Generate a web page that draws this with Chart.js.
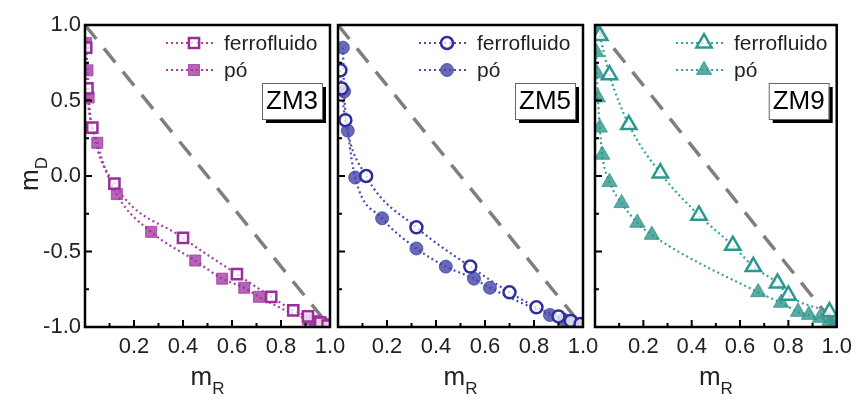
<!DOCTYPE html>
<html>
<head>
<meta charset="utf-8">
<script src="https://cdn.jsdelivr.net/npm/chart.js@4.4.0/dist/chart.umd.min.js"></script>
<style>
  html, body { margin: 0; padding: 0; background: #fff; }
  #wrap { position: relative; width: 859px; height: 400px; }
  #wrap canvas { position: absolute; left: 0; top: 0; }
</style>
</head>
<body>
<div id="wrap">
  <canvas id="c1" width="859" height="400"></canvas>
  <canvas id="c2" width="859" height="400"></canvas>
  <canvas id="c3" width="859" height="400"></canvas>
</div>
<script>
// values
const zm3FerroX = [0.005, 0.01, 0.03, 0.12, 0.40, 0.62, 0.76, 0.85, 0.91, 0.96, 0.99];
const zm3FerroY = [0.85, 0.58, 0.32, -0.05, -0.41, -0.65, -0.80, -0.89, -0.93, -0.97, -0.99];
const zm3PoX = [0.004, 0.01, 0.015, 0.05, 0.13, 0.27, 0.45, 0.56, 0.65, 0.71, 0.91, 0.94, 0.96, 0.98, 0.995];
const zm3PoY = [0.88, 0.70, 0.52, 0.22, -0.12, -0.37, -0.56, -0.68, -0.74, -0.80, -0.95, -0.96, -0.97, -0.98, -0.99];

const zm5FerroX = [0.01, 0.015, 0.03, 0.115, 0.32, 0.54, 0.70, 0.81, 0.90, 0.95, 0.99];
const zm5FerroY = [0.70, 0.58, 0.37, 0.0, -0.34, -0.60, -0.77, -0.87, -0.93, -0.96, -0.98];
const zm5PoX = [0.02, 0.025, 0.04, 0.07, 0.18, 0.32, 0.44, 0.555, 0.62, 0.865, 0.92, 0.96, 0.99];
const zm5PoY = [0.85, 0.56, 0.30, -0.01, -0.28, -0.48, -0.60, -0.68, -0.74, -0.92, -0.95, -0.97, -0.99];

const zm9FerroX = [0.02, 0.06, 0.14, 0.27, 0.43, 0.57, 0.655, 0.755, 0.80, 0.97];
const zm9FerroY = [0.93, 0.67, 0.34, 0.02, -0.26, -0.46, -0.60, -0.71, -0.79, -0.90];
const zm9PoX = [0.005, 0.008, 0.012, 0.02, 0.03, 0.06, 0.11, 0.175, 0.235, 0.675, 0.77, 0.84, 0.885, 0.93, 0.97, 0.99];
const zm9PoY = [0.82, 0.68, 0.52, 0.32, 0.14, -0.04, -0.18, -0.31, -0.39, -0.77, -0.84, -0.90, -0.92, -0.94, -0.96, -0.97];

const diagX = [0, 1];
const diagY = [1, -1];

const seriesNames = ['ferrofluido', 'pó'];
const panelNames = ['ZM3', 'ZM5', 'ZM9'];
const xLabelTicks = [0.2, 0.4, 0.6, 0.8, 1.0];
const yLabelTicks = [-1.0, -0.5, 0.0, 0.5, 1.0];

const FONT = '"Liberation Sans", Arial, sans-serif';

function pts(xs, ys) {
    return xs.map((x, i) => ({ x: x, y: ys[i] }));
}

const panels = [
    { id: 'c1', name: panelNames[0], left: 85, right: 330, showY: true,
      ferro: pts(zm3FerroX, zm3FerroY), po: pts(zm3PoX, zm3PoY),
      line: '#a43ea4', stroke: '#98309a', fill: 'rgba(158,48,158,0.75)', style: 'rect', rOpen: 7.2, rFill: 7.8 },
    { id: 'c2', name: panelNames[1], left: 338, right: 583, showY: false,
      ferro: pts(zm5FerroX, zm5FerroY), po: pts(zm5PoX, zm5PoY),
      line: '#4a4ab0', stroke: '#2e2e9c', fill: 'rgba(68,68,168,0.8)', style: 'circle', rOpen: 6, rFill: 6.5 },
    { id: 'c3', name: panelNames[2], left: 595, right: 840, showY: false,
      ferro: pts(zm9FerroX, zm9FerroY), po: pts(zm9PoX, zm9PoY),
      line: '#36a39b', stroke: '#2c9990', fill: 'rgba(48,150,140,0.8)', style: 'triangle', rOpen: 8.8, rFill: 8.8 }
];

// frame, inward ticks, legend, label box and axis titles
const decorPlugin = {
    id: 'decor',
    afterDraw(chart) {
        const p = chart.options.plugins.decor;
        const ctx = chart.ctx;
        const a = chart.chartArea;
        const xs = chart.scales.x, ys = chart.scales.y;
        ctx.save();

        // ticks pointing inward
        ctx.strokeStyle = '#000';
        ctx.lineWidth = 2;
        ctx.beginPath();
        for (let i = 1; i < 10; i++) {
            const px = xs.getPixelForValue(i / 10);
            const len = i % 2 === 0 ? 7 : 4;
            ctx.moveTo(px, a.bottom);
            ctx.lineTo(px, a.bottom - len);
        }
        for (let i = -3; i <= 3; i++) {
            const py = ys.getPixelForValue(i / 4);
            const len = i % 2 === 0 ? 7 : 4;
            ctx.moveTo(a.left, py);
            ctx.lineTo(a.left + len, py);
        }
        ctx.stroke();

        // frame
        ctx.lineWidth = 2.5;
        ctx.strokeRect(a.left, a.top, a.right - a.left, a.bottom - a.top);

        // legend
        const tx = a.left + 139;
        const rows = [a.top + 18, a.top + 45];
        ctx.font = '21px ' + FONT;
        ctx.textBaseline = 'middle';
        ctx.textAlign = 'left';
        rows.forEach((ry, k) => {
            const ds = chart.data.datasets[k];
            ctx.strokeStyle = ds.borderColor;
            ctx.lineWidth = 2.2;
            ctx.setLineDash([2, 3]);
            ctx.beginPath();
            ctx.moveTo(tx - 58, ry);
            ctx.lineTo(tx - 8, ry);
            ctx.stroke();
            ctx.setLineDash([]);
            ctx.fillStyle = ds.pointBackgroundColor;
            ctx.strokeStyle = ds.pointBorderColor;
            ctx.lineWidth = ds.pointBorderWidth;
            Chart.helpers.drawPoint(ctx, {
                pointStyle: ds.pointStyle, radius: ds.pointRadius,
                borderWidth: ds.pointBorderWidth, rotation: 0
            }, tx - 30, ry);
            ctx.fillStyle = '#222';
            ctx.fillText(ds.label, tx, ry + 1);
        });

        // ZM box with shadow
        const bw = 60, bh = 36;
        const bx = a.right - 68, by = a.top + 58;
        ctx.fillStyle = '#000';
        ctx.fillRect(bx + 4, by + 4, bw, bh);
        ctx.fillStyle = '#fff';
        ctx.fillRect(bx, by, bw, bh);
        ctx.strokeStyle = '#666';
        ctx.lineWidth = 1;
        ctx.strokeRect(bx + 0.5, by + 0.5, bw, bh);
        ctx.fillStyle = '#000';
        ctx.font = '26px ' + FONT;
        ctx.textAlign = 'center';
        ctx.fillText(p.name, bx + bw / 2, by + bh / 2 + 1);

        // x title m_R
        ctx.textBaseline = 'alphabetic';
        ctx.textAlign = 'left';
        ctx.fillStyle = '#222';
        ctx.font = '26px ' + FONT;
        const mw = ctx.measureText('m').width;
        ctx.font = '17px ' + FONT;
        const rw = ctx.measureText('R').width;
        const cx = (a.left + a.right) / 2;
        let sx = cx - (mw + rw) / 2;
        ctx.font = '26px ' + FONT;
        ctx.fillText('m', sx, 385);
        ctx.font = '17px ' + FONT;
        ctx.fillText('R', sx + mw, 394);

        // y title m_D
        if (p.showY) {
            ctx.translate(38, 174);
            ctx.rotate(-Math.PI / 2);
            ctx.font = '17px ' + FONT;
            const dw = ctx.measureText('D').width;
            const start = -(mw + dw) / 2;
            ctx.font = '26px ' + FONT;
            ctx.fillText('m', start, 0);
            ctx.font = '17px ' + FONT;
            ctx.fillText('D', start + mw, 9);
        }
        ctx.restore();
    }
};

panels.forEach(p => {
    const ctx = document.getElementById(p.id);
    new Chart(ctx, {
        type: 'scatter',
        data: {
            datasets: [
                {
                    label: seriesNames[0],
                    data: p.ferro,
                    showLine: true,
                    cubicInterpolationMode: 'monotone',
                    borderColor: p.line,
                    borderWidth: 2.2,
                    borderDash: [2, 3],
                    pointStyle: p.style,
                    pointRadius: p.rOpen,
                    pointBorderWidth: 2.5,
                    pointBorderColor: p.stroke,
                    pointBackgroundColor: 'rgba(255,255,255,0.75)'
                },
                {
                    label: seriesNames[1],
                    data: p.po,
                    showLine: true,
                    cubicInterpolationMode: 'monotone',
                    borderColor: p.line,
                    borderWidth: 2.2,
                    borderDash: [2, 3],
                    pointStyle: p.style,
                    pointRadius: p.rFill,
                    pointBorderWidth: 1,
                    pointBorderColor: p.fill,
                    pointBackgroundColor: p.fill
                },
                {
                    label: 'diag',
                    data: pts(diagX, diagY),
                    showLine: true,
                    borderColor: '#7f7f7f',
                    borderWidth: 3.5,
                    borderDash: [18, 12],
                    pointRadius: 0
                }
            ]
        },
        options: {
            responsive: false,
            animation: false,
            events: [],
            layout: { padding: { left: p.showY ? 0 : p.left, right: 859 - p.right, top: 25, bottom: 0 } },
            plugins: {
                legend: { display: false },
                tooltip: { enabled: false },
                decor: { name: p.name, showY: p.showY }
            },
            scales: {
                x: {
                    type: 'linear', min: 0, max: 1,
                    border: { display: false },
                    grid: { display: false, drawTicks: false },
                    afterFit: s => { s.height = 73; },
                    ticks: {
                        stepSize: 0.1, autoSkip: false, maxRotation: 0, padding: 7,
                        color: '#222', font: { family: FONT, size: 22 },
                        callback: v => {
                            const t = xLabelTicks.find(q => Math.abs(q - v) < 1e-6);
                            return t === undefined ? '' : t.toFixed(1);
                        }
                    }
                },
                y: {
                    type: 'linear', min: -1, max: 1,
                    border: { display: false },
                    grid: { display: false, drawTicks: false },
                    afterFit: s => { s.width = p.showY ? p.left : 0; },
                    ticks: {
                        display: p.showY,
                        stepSize: 0.25, autoSkip: false, padding: 4,
                        color: '#222', font: { family: FONT, size: 22 },
                        callback: v => {
                            const t = yLabelTicks.find(q => Math.abs(q - v) < 1e-6);
                            return t === undefined ? '' : t.toFixed(1);
                        }
                    }
                }
            }
        },
        plugins: [decorPlugin]
    });
});
</script>
</body>
</html>
